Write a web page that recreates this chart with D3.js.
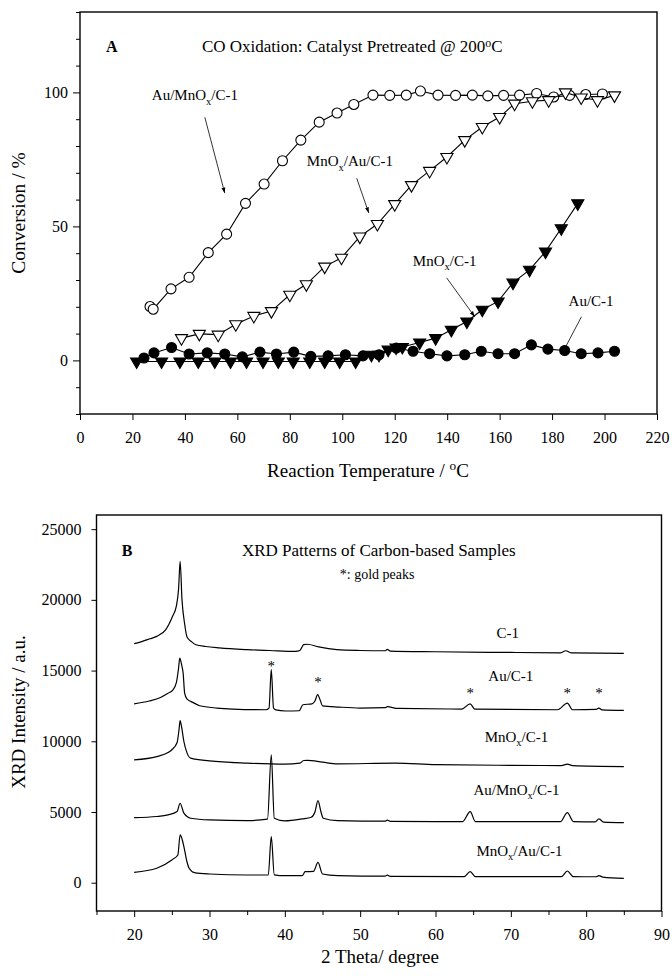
<!DOCTYPE html>
<html>
<head>
<meta charset="utf-8">
<script src="https://cdn.jsdelivr.net/npm/d3@7"></script>
<style>
  body { margin: 0; background: #fff; }
  text { font-family: "Liberation Serif", "Times New Roman", serif; fill: #000; }
</style>
</head>
<body>
<script>
// ---- panel A: CO conversion data ----
var auMnOxT    = [26.7, 27.9, 34.7, 41.6, 48.9, 55.9, 63.1, 70.2, 77.2, 84.2, 91.2, 98.0, 104.4, 111.7, 118.1, 124.4, 129.8, 136.5, 143.2, 149.6, 155.5, 161.5, 167.6, 174.1, 180.6, 186.7, 192.8, 199.2];
var auMnOxConv = [20.1, 19.1, 26.7, 31.0, 40.2, 47.1, 58.6, 65.8, 74.5, 82.2, 88.9, 92.3, 95.5, 99.0, 98.9, 99.0, 100.5, 99.0, 98.9, 99.0, 98.7, 98.9, 99.0, 99.6, 98.3, 98.9, 99.2, 99.4];

var mnOxAuT    = [38.7, 45.5, 52.7, 59.4, 66.3, 73.0, 80.0, 86.3, 93.3, 99.7, 106.7, 113.4, 120.0, 126.4, 133.3, 139.9, 146.7, 153.4, 160.0, 165.7, 172.5, 178.7, 185.1, 191.1, 197.3, 203.8];
var mnOxAuConv = [8.3, 9.9, 9.6, 13.5, 16.6, 18.4, 24.5, 28.4, 35.0, 38.3, 46.2, 50.9, 58.3, 65.4, 70.7, 75.9, 82.2, 87.1, 90.8, 95.8, 96.7, 97.1, 100.0, 98.1, 97.1, 98.9];

var mnOxT    = [21.6, 31.1, 38.1, 45.1, 51.4, 57.4, 63.5, 69.8, 75.6, 81.3, 87.6, 93.3, 99.0, 105.1, 111.1, 114.0, 117.5, 120.5, 122.9, 129.5, 135.6, 141.6, 147.5, 153.4, 159.4, 165.1, 171.4, 177.5, 183.5, 189.8];
var mnOxConv = [-0.4, -0.4, -0.4, -0.4, -0.4, -0.4, -0.4, -0.4, -0.4, -0.4, -0.4, -0.4, -0.4, -0.4, 2.1, 2.1, 4.0, 4.8, 5.0, 6.7, 8.3, 11.4, 14.5, 18.9, 22.0, 29.0, 33.8, 40.6, 49.3, 58.6];

var auT    = [24.4, 28.2, 34.9, 41.6, 48.5, 55.2, 61.9, 68.6, 74.9, 81.5, 88.0, 94.6, 101.2, 107.9, 114.0, 120.6, 127.0, 133.3, 139.9, 146.7, 153.0, 159.4, 165.7, 172.1, 178.4, 184.8, 191.1, 197.5, 203.8];
var auConv = [0.9, 2.8, 4.8, 2.4, 2.8, 2.4, 1.3, 3.1, 2.4, 3.1, 1.5, 1.7, 2.1, 1.7, 2.1, 4.6, 3.4, 2.5, 1.7, 2.1, 3.4, 2.5, 2.5, 5.8, 4.2, 3.7, 2.5, 2.8, 3.4];

var tempTicks = d3.range(0, 221, 20);
var convTicks = d3.range(-20, 131, 10);
var convLabels = [0, 50, 100];

// ---- panel B: XRD patterns, [2theta, intensity] ----
var xrdC1 = [[20,16900],[21,17050],[22.1,17250],[23,17420],[24.2,17900],[25.1,18840],[25.6,19550],[25.9,20800],[26.1,22730],[26.35,20000],[26.7,18300],[27,17400],[27.6,17050],[28.2,16830],[29.5,16700],[31.3,16600],[35,16480],[38,16420],[41.4,16360],[42,16420],[42.5,16830],[43,16860],[44.5,16670],[46.9,16480],[50,16420],[53.3,16400],[53.6,16500],[54,16380],[60,16330],[70,16280],[76.6,16250],[77.3,16400],[78,16250],[85,16220]];
var xrdAuC1 = [[20,12650],[22,12850],[23.5,13100],[24.5,13400],[25.1,13600],[25.6,14150],[25.9,15200],[26.05,15890],[26.3,15400],[26.5,14830],[26.7,13410],[27,13000],[27.8,12750],[28.7,12510],[31,12350],[33.1,12280],[37.5,12230],[37.9,12350],[38.2,15060],[38.5,12350],[38.8,12220],[40.1,12140],[41.9,12160],[42.4,12585],[43.6,12650],[44,12850],[44.35,13300],[44.7,12900],[45,12510],[47.2,12420],[50,12350],[53.3,12380],[53.6,12450],[55,12320],[63.5,12280],[64.6,12650],[65.2,12280],[76.2,12230],[77.5,12700],[78.2,12230],[81.3,12250],[81.7,12350],[82.1,12220],[85,12180]];
var xrdMnOxC1 = [[20,8690],[23,8920],[24.5,9200],[25,9400],[25.7,9915],[25.95,10800],[26.1,11470],[26.3,11000],[26.6,9985],[27,9200],[27.5,8810],[30,8620],[35,8455],[40,8385],[42,8450],[42.5,8640],[43,8650],[45,8525],[47,8405],[54.7,8455],[60,8350],[70,8300],[76.7,8285],[77.5,8380],[78.2,8280],[85,8215]];
var xrdAuMnOxC1 = [[20,4600],[23,4680],[24.5,4795],[25.7,5030],[26.1,5620],[26.6,4915],[27.5,4560],[30,4440],[35,4390],[37.7,4500],[38.2,9045],[38.6,4560],[40,4370],[42.3,4510],[43.5,4630],[44,5000],[44.4,5810],[44.8,5000],[45.1,4560],[47,4390],[53.3,4350],[53.6,4420],[54,4340],[63.6,4320],[64.6,5030],[65.3,4320],[76.6,4320],[77.5,4960],[78.3,4320],[81.2,4300],[81.7,4510],[82.3,4290],[85,4250]];
var xrdMnOxAuC1 = [[20,735],[23,1020],[25,1610],[25.8,1960],[26.1,3380],[26.4,3000],[26.6,2550],[27,1500],[27.3,1020],[28,710],[30,615],[35,545],[37.8,545],[38.2,3260],[38.6,560],[40,500],[42.3,500],[42.7,780],[43.8,800],[44.4,1445],[45,615],[47,500],[53.3,460],[53.6,540],[54,450],[63.8,425],[64.6,780],[65.3,425],[76.7,425],[77.5,830],[78.3,425],[81.3,420],[81.7,500],[82.2,400],[85,310]];

var goldPeaks = [[38.2,15560],[44.4,14430],[64.6,13650],[77.5,13650],[81.7,13650]];
var thetaMinor = d3.range(15, 91, 5);
var intTicks = d3.range(0, 25001, 5000);

var svg = d3.select('body').append('svg')
  .attr('width', 672)
  .attr('height', 976);

// text with sub / superscript pieces: [[str, 'sub'|'sup'|null], ...]
function richText(g, x, y, parts, size, anchor) {
  var t = g.append('text')
    .attr('x', x).attr('y', y)
    .style('font-size', size + 'px')
    .attr('text-anchor', anchor || 'start');
  var shift = 0;
  parts.forEach(function(p) {
    var target = p[1] === 'sub' ? 0.3 * size : p[1] === 'sup' ? -0.35 * size : 0;
    var ts = t.append('tspan').text(p[0]).attr('dy', target - shift);
    if (p[1]) ts.style('font-size', (size * 0.7) + 'px');
    shift = target;
  });
  return t;
}

svg.append('defs').append('marker')
  .attr('id', 'arrow')
  .attr('viewBox', '0 0 10 10')
  .attr('refX', 10).attr('refY', 5)
  .attr('markerWidth', 7).attr('markerHeight', 7)
  .attr('orient', 'auto')
  .append('path')
  .attr('d', 'M0,1.5 L10,5 L0,8.5 Z')
  .attr('fill', '#000');

// ================= panel A =================
var mA = { left: 80, top: 12 };
var wA = 577, hA = 402;
var gA = svg.append('g').attr('transform', `translate(${mA.left}, ${mA.top})`);

var xA = d3.scaleLinear().domain([0, 220]).range([0, wA]);
var yA = d3.scaleLinear().domain([-20, 130]).range([hA, 0]);

gA.append('g')
  .attr('transform', `translate(0, ${hA})`)
  .call(d3.axisBottom(xA).tickValues(tempTicks).tickSize(6).tickPadding(12))
  .call(styleAxis);

gA.append('g')
  .call(d3.axisLeft(yA).tickValues(convTicks).tickPadding(6)
    .tickFormat(function(d) { return convLabels.indexOf(d) >= 0 ? d : ''; }))
  .call(styleAxis)
  .selectAll('.tick line')
  .attr('x2', function(d) { return convLabels.indexOf(d) >= 0 ? -7 : -4; });

gA.append('rect')
  .attr('width', wA).attr('height', hA)
  .attr('fill', 'none').attr('stroke', '#000').attr('stroke-width', 1.4);

var lineA = d3.line()
  .x(function(d) { return xA(d[0]); })
  .y(function(d) { return yA(d[1]); });

var triDown = d3.symbol().type(d3.symbolTriangle).size(64);

function drawSeries(T, C, kind, filled) {
  var pts = d3.zip(T, C);
  gA.append('path')
    .datum(pts)
    .attr('d', lineA)
    .attr('fill', 'none')
    .attr('stroke', '#000')
    .attr('stroke-width', 1.1);
  var sel = gA.append('g').selectAll('.pt').data(pts).enter();
  if (kind === 'circle') {
    sel.append('circle')
      .attr('cx', function(d) { return xA(d[0]); })
      .attr('cy', function(d) { return yA(d[1]); })
      .attr('r', 5)
      .attr('fill', filled ? '#000' : '#fff')
      .attr('stroke', '#000').attr('stroke-width', 1.1);
  } else {
    sel.append('path')
      .attr('d', triDown)
      .attr('transform', function(d) { return `translate(${xA(d[0])}, ${yA(d[1])}) rotate(180)`; })
      .attr('fill', filled ? '#000' : '#fff')
      .attr('stroke', '#000').attr('stroke-width', 1.1);
  }
}

drawSeries(auT, auConv, 'circle', true);
drawSeries(mnOxT, mnOxConv, 'tri', true);
drawSeries(auMnOxT, auMnOxConv, 'circle', false);
drawSeries(mnOxAuT, mnOxAuConv, 'tri', false);

// annotations (data units)
var arrowsA = [
  [[47.6, 90.7], [55.2, 62.4]],
  [[105.5, 68.0], [110.1, 55.0]],
  [[139.8, 30.8], [150.5, 16.3]],
  [[191.2, 16.3], [184.0, 2.9]]
];
arrowsA.forEach(function(a) {
  gA.append('line')
    .attr('x1', xA(a[0][0])).attr('y1', yA(a[0][1]))
    .attr('x2', xA(a[1][0])).attr('y2', yA(a[1][1]))
    .attr('stroke', '#000').attr('stroke-width', 0.8)
    .attr('marker-end', 'url(#arrow)');
});

richText(gA, xA(27.4), yA(97.1), [['Au/MnO'], ['x', 'sub'], ['/C-1']], 15);
richText(gA, xA(86.5), yA(72.5), [['MnO'], ['x', 'sub'], ['/Au/C-1']], 15);
richText(gA, xA(126.9), yA(35.3), [['MnO'], ['x', 'sub'], ['/C-1']], 15);
richText(gA, xA(186.3), yA(20.4), [['Au/C-1']], 15);

gA.append('text').attr('x', xA(9.9)).attr('y', yA(114.9))
  .style('font-size', '16px').style('font-weight', 'bold').text('A');
richText(gA, xA(46.5), yA(114.9), [['CO Oxidation: Catalyst Pretreated @ 200'], ['o', 'sup'], ['C']], 17);

richText(svg, 368, 477, [['Reaction Temperature / '], ['o', 'sup'], ['C']], 19, 'middle');
svg.append('text')
  .attr('transform', 'translate(25, 213) rotate(-90)')
  .attr('text-anchor', 'middle')
  .style('font-size', '19.5px')
  .text('Conversion / %');

// ================= panel B =================
var mB = { left: 96.5, top: 515 };
var wB = 565, hB = 396;
var gB = svg.append('g').attr('transform', `translate(${mB.left}, ${mB.top})`);

var xB = d3.scaleLinear().domain([15, 90]).range([0, wB]);
var yB = d3.scaleLinear().domain([-2000, 26000]).range([hB, 0]);

gB.append('g')
  .attr('transform', `translate(0, ${hB})`)
  .call(d3.axisBottom(xB).tickValues(thetaMinor).tickPadding(12)
    .tickFormat(function(d) { return d % 10 === 0 ? d : ''; }))
  .call(styleAxis)
  .selectAll('.tick line')
  .attr('y2', function(d) { return d % 10 === 0 ? 6 : 4; });

gB.append('g')
  .call(d3.axisLeft(yB).tickValues(intTicks).tickSize(5).tickPadding(10)
    .tickFormat(d3.format('d')))
  .call(styleAxis);

gB.append('rect')
  .attr('width', wB).attr('height', hB)
  .attr('fill', 'none').attr('stroke', '#000').attr('stroke-width', 1.4);

var lineB = d3.line()
  .x(function(d) { return xB(d[0]); })
  .y(function(d) { return yB(d[1]); })
  .curve(d3.curveMonotoneX);

[xrdC1, xrdAuC1, xrdMnOxC1, xrdAuMnOxC1, xrdMnOxAuC1].forEach(function(s) {
  gB.append('path')
    .datum(s)
    .attr('d', lineB)
    .attr('fill', 'none')
    .attr('stroke', '#000')
    .attr('stroke-width', 1.2);
});

gB.selectAll('.star').data(goldPeaks).enter().append('text')
  .attr('x', function(d) { return xB(d[0]); })
  .attr('y', function(d) { return yB(d[1]) + 8; })
  .attr('text-anchor', 'middle')
  .style('font-size', '15px')
  .text('*');

gB.append('text').attr('x', xB(18.35)).attr('y', yB(23100))
  .style('font-size', '16px').style('font-weight', 'bold').text('B');
gB.append('text').attr('x', xB(34.3)).attr('y', yB(23070))
  .style('font-size', '17px').text('XRD Patterns of Carbon-based Samples');
gB.append('text').attr('x', xB(47.3)).attr('y', yB(21440))
  .style('font-size', '14px').text('*: gold peaks');

richText(gB, xB(69.6), yB(17330), [['C-1']], 15, 'middle');
richText(gB, xB(70.0), yB(14285), [['Au/C-1']], 15, 'middle');
richText(gB, xB(70.75), yB(9964), [['MnO'], ['x', 'sub'], ['/C-1']], 15, 'middle');
richText(gB, xB(70.75), yB(6211), [['Au/MnO'], ['x', 'sub'], ['/C-1']], 15, 'middle');
richText(gB, xB(71.15), yB(1891), [['MnO'], ['x', 'sub'], ['/Au/C-1']], 15, 'middle');

richText(svg, 380, 963, [['2 Theta/ degree']], 19, 'middle');
svg.append('text')
  .attr('transform', 'translate(25, 712) rotate(-90)')
  .attr('text-anchor', 'middle')
  .style('font-size', '19px')
  .text('XRD Intensity / a.u.');

function styleAxis(g) {
  g.select('.domain').remove();
  g.attr('font-family', null);
  g.selectAll('.tick line').attr('stroke', '#000');
  g.selectAll('.tick text')
    .style('font-family', '"Liberation Serif", serif')
    .style('font-size', '16px')
    .attr('fill', '#000');
}
</script>
</body>
</html>
